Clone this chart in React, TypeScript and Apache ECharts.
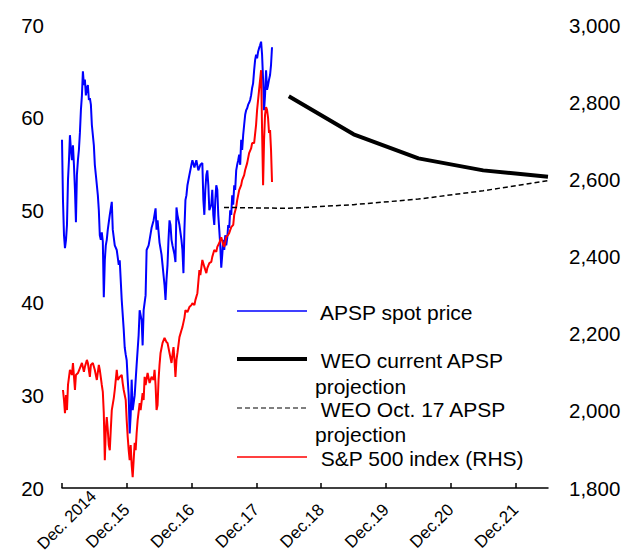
import React, { useEffect, useRef } from "react";
import * as echarts from "echarts";

// x values: months since Dec. 2014 (0 = Dec. 2014, 12 = Dec.15, ...)
const xTickMonths = [0, 12, 24, 36, 48, 60, 72, 84];
const xTickLabels = ["Dec. 2014", "Dec.15", "Dec.16", "Dec.17", "Dec.18", "Dec.19", "Dec.20", "Dec.21"];

const seriesNames = [
  "APSP spot price",
  "WEO current APSP projection",
  "WEO Oct. 17 APSP projection",
  "S&P 500 index (RHS)",
];

// APSP spot price, US$ per barrel (left axis)
const apspSpot: [number, number][] = [
  [0, 57.6], [0.18, 51.1], [0.37, 47.3], [0.55, 45.9], [0.74, 46.8], [0.92, 48.4], [1.11, 53.3], [1.29, 55.4],
  [1.47, 58.1], [1.66, 56.5], [1.84, 55.4], [2.03, 57.0], [2.21, 54.9], [2.4, 52.2], [2.58, 48.7], [2.76, 53.8],
  [2.95, 55.4], [3.13, 56.5], [3.32, 58.4], [3.5, 60.8], [3.69, 62.4], [3.87, 65.0], [4.06, 63.5], [4.24, 64.1],
  [4.42, 62.4], [4.61, 63.2], [4.79, 63.5], [4.98, 61.9], [5.16, 62.1], [5.35, 61.4], [5.53, 59.2], [5.9, 57.0],
  [6.08, 54.9], [6.27, 53.8], [6.64, 51.6], [6.82, 50.0], [7.0, 47.3], [7.19, 46.8], [7.37, 47.6], [7.56, 46.6],
  [7.74, 40.6], [7.93, 44.6], [8.11, 46.2], [8.29, 46.8], [8.48, 47.9], [8.85, 49.5], [9.22, 50.9], [9.4, 47.9],
  [9.77, 46.2], [10.14, 45.7], [10.51, 44.1], [10.69, 44.6], [11.06, 40.3], [11.43, 37.1], [11.61, 35.2],
  [11.8, 34.4], [11.98, 33.8], [12.17, 31.7], [12.35, 30.0], [12.53, 25.9], [12.72, 27.9], [12.9, 31.7],
  [13.09, 28.4], [13.46, 30.0], [13.82, 33.3], [14.19, 36.5], [14.38, 39.2], [14.75, 38.1], [14.93, 35.4],
  [15.12, 39.2], [15.48, 40.8], [15.67, 45.7], [16.04, 46.2], [16.22, 46.8], [16.59, 48.1], [16.96, 48.9],
  [17.33, 50.2], [17.51, 47.9], [17.7, 48.9], [18.06, 46.5], [18.43, 45.2], [18.62, 44.1], [18.8, 43.0],
  [18.99, 41.9], [19.17, 40.3], [19.35, 42.5], [19.54, 44.1], [19.72, 46.8], [19.91, 48.9], [20.09, 48.4],
  [20.28, 46.8], [20.46, 46.2], [20.83, 45.2], [21.01, 44.4], [21.2, 50.3], [21.38, 49.5], [21.75, 48.4],
  [22.12, 46.8], [22.3, 45.7], [22.49, 43.2], [22.67, 47.9], [22.86, 51.1], [23.04, 51.6], [23.23, 52.7],
  [23.59, 53.8], [23.96, 54.9], [24.15, 55.4], [24.52, 54.6], [24.88, 55.4], [25.25, 54.3], [25.62, 54.9],
  [25.99, 55.1], [26.18, 51.1], [26.36, 49.5], [26.54, 52.2], [26.73, 53.8], [26.91, 54.3], [27.1, 52.7],
  [27.28, 50.0], [27.65, 50.6], [27.83, 52.2], [28.02, 49.5], [28.2, 48.4], [28.39, 51.1], [28.57, 52.7],
  [28.76, 52.2], [28.94, 49.5], [29.12, 47.9], [29.31, 46.2], [29.49, 43.8], [29.68, 45.2], [29.86, 46.8],
  [30.05, 45.7], [30.23, 47.3], [30.41, 46.2], [30.6, 47.0], [30.78, 48.4], [30.97, 48.1], [31.15, 50.0],
  [31.34, 49.5], [31.52, 51.6], [31.71, 50.6], [31.89, 52.7], [32.07, 52.2], [32.26, 54.3], [32.44, 54.9],
  [32.63, 55.4], [32.81, 56.0], [33.0, 54.9], [33.18, 57.6], [33.36, 56.5], [33.55, 58.1], [33.73, 59.2],
  [33.92, 60.3], [34.1, 60.8], [34.29, 61.0], [34.47, 61.4], [34.65, 61.6], [34.84, 61.9], [35.02, 62.4],
  [35.21, 63.2], [35.39, 63.7], [35.58, 65.1], [35.76, 66.2], [35.94, 66.8], [36.13, 66.4], [36.31, 67.1],
  [36.5, 67.5], [36.68, 67.8], [36.87, 68.2], [37.05, 66.8], [37.24, 64.1], [37.42, 60.8], [37.6, 62.4],
  [37.79, 65.1], [37.97, 63.0], [38.16, 63.5], [38.34, 64.1], [38.53, 64.6], [38.71, 65.7], [38.89, 67.6],
];

// WEO projections, annual averages plotted at mid-year (left axis)
const weoCurrent: [number, number][] = [
  [42, 62.3], [54, 58.2], [66, 55.6], [78, 54.3], [90, 53.6],
];
const weoOct17: [number, number][] = [
  [30, 50.3], [42, 50.2], [54, 50.6], [66, 51.2], [78, 52.1], [90, 53.2],
];

// S&P 500 index (right axis)
const sp500: [number, number][] = [
  [0.18, 2054], [0.37, 2028], [0.55, 1994], [0.74, 2041], [0.92, 2002], [1.11, 2067], [1.47, 2106], [1.84, 2093],
  [2.03, 2124], [2.4, 2054], [2.58, 2093], [2.95, 2098], [3.32, 2111], [3.69, 2124], [4.06, 2101], [4.24, 2114],
  [4.61, 2132], [4.79, 2124], [5.16, 2088], [5.35, 2119], [5.71, 2124], [6.08, 2106], [6.45, 2080], [6.82, 2119],
  [7.0, 2106], [7.37, 2067], [7.56, 2049], [7.74, 1994], [7.93, 1872], [8.11, 1950], [8.29, 1984], [8.48, 1950],
  [8.66, 1911], [8.85, 1898], [9.03, 1950], [9.22, 2002], [9.59, 2033], [9.77, 2054], [10.14, 2106], [10.32, 2080],
  [10.69, 2088], [11.06, 2093], [11.24, 2072], [11.43, 2054], [11.8, 2028], [11.98, 1976], [12.17, 1932],
  [12.35, 1898], [12.53, 1872], [12.72, 1911], [12.9, 1860], [13.09, 1828], [13.27, 1872], [13.46, 1917],
  [13.64, 1898], [13.82, 1942], [14.01, 1976], [14.38, 2020], [14.56, 2002], [14.93, 2046], [15.12, 2028],
  [15.3, 2088], [15.48, 2067], [15.85, 2098], [16.22, 2072], [16.59, 2088], [16.96, 2080], [17.14, 2106],
  [17.33, 2067], [17.51, 2002], [17.7, 2015], [17.88, 2080], [18.06, 2119], [18.25, 2150], [18.62, 2176],
  [18.99, 2189], [19.35, 2178], [19.54, 2176], [19.91, 2150], [20.28, 2124], [20.46, 2145], [20.65, 2165],
  [20.83, 2132], [21.01, 2088], [21.2, 2132], [21.38, 2150], [21.75, 2191], [22.12, 2209], [22.3, 2217],
  [22.67, 2241], [22.86, 2261], [23.23, 2256], [23.59, 2269], [23.96, 2274], [24.15, 2279], [24.52, 2274],
  [24.7, 2287], [25.07, 2305], [25.44, 2365], [25.62, 2352], [25.99, 2391], [26.36, 2373], [26.73, 2357],
  [26.91, 2370], [27.28, 2383], [27.65, 2386], [27.83, 2399], [28.2, 2417], [28.57, 2412], [28.76, 2425],
  [29.12, 2435], [29.49, 2450], [29.86, 2430], [30.05, 2425], [30.41, 2450], [30.78, 2456], [30.97, 2461],
  [31.34, 2476], [31.71, 2482], [31.89, 2508], [32.26, 2528], [32.44, 2546], [32.81, 2572], [33.18, 2585],
  [33.36, 2598], [33.73, 2611], [33.92, 2624], [34.29, 2642], [34.65, 2668], [35.02, 2680], [35.21, 2694],
  [35.58, 2694], [35.94, 2741], [36.13, 2780], [36.5, 2832], [36.68, 2857], [36.87, 2883], [37.05, 2728],
  [37.24, 2585], [37.42, 2702], [37.6, 2767], [37.79, 2787], [37.97, 2780], [38.16, 2759], [38.34, 2720],
  [38.53, 2728], [38.71, 2676], [38.89, 2593],
];

const leftTicks = { min: 20, max: 70, interval: 10 };
const rightTicks = { min: 1800, max: 3000, interval: 200 };

const FONT = "Liberation Sans, Arial, sans-serif";

export default function App() {
  const ref = useRef<HTMLDivElement>(null);

  useEffect(() => {
    if (!ref.current) return;
    const chart = echarts.init(ref.current, undefined, { renderer: "svg" });

    const legendText = (text: string, x: number, y: number) => ({
      type: "text",
      x,
      y,
      silent: true,
      style: { text, fontSize: 21, fontFamily: FONT, fill: "#000", align: "left", verticalAlign: "middle" },
    });
    const legendLine = (y: number, stroke: string, lineWidth: number, lineDash?: number[]) => ({
      type: "line",
      silent: true,
      shape: { x1: 237, y1: y, x2: 307, y2: y },
      style: { stroke, lineWidth, lineDash },
    });

    chart.setOption({
      animation: false,
      backgroundColor: "#fff",
      grid: { left: 62, right: 77, top: 25, bottom: 68, containLabel: false },
      xAxis: {
        type: "value",
        min: 0,
        max: 90,
        interval: 12,
        axisLine: { show: true, onZero: false, lineStyle: { color: "#000", width: 1.5 } },
        axisTick: { show: true, inside: true, length: 5, customValues: xTickMonths, lineStyle: { color: "#000", width: 1.5 } },
        axisLabel: {
          customValues: xTickMonths.slice(1),
          rotate: 45,
          margin: 19,
          fontSize: 17,
          fontFamily: FONT,
          color: "#000",
          formatter: (v: number) => {
            const i = xTickMonths.indexOf(Math.round(v));
            return i > 0 ? xTickLabels[i] : "";
          },
        },
        splitLine: { show: false },
      },
      yAxis: [
        {
          type: "value",
          ...leftTicks,
          position: "left",
          axisLine: { show: false },
          axisTick: { show: false },
          splitLine: { show: false },
          axisLabel: { margin: 18, fontSize: 20.5, fontFamily: FONT, color: "#000" },
        },
        {
          type: "value",
          ...rightTicks,
          position: "right",
          axisLine: { show: false },
          axisTick: { show: false },
          splitLine: { show: false },
          axisLabel: {
            margin: 21,
            fontSize: 20.5,
            fontFamily: FONT,
            color: "#000",
            formatter: (v: number) => v.toLocaleString("en-US"),
          },
        },
      ],
      series: [
        {
          name: seriesNames[0],
          type: "line",
          yAxisIndex: 0,
          data: apspSpot,
          showSymbol: false,
          symbol: "none",
          lineStyle: { color: "#0000ff", width: 2 },
        },
        {
          name: seriesNames[3],
          type: "line",
          yAxisIndex: 1,
          data: sp500,
          showSymbol: false,
          symbol: "none",
          lineStyle: { color: "#ff0000", width: 2 },
        },
        {
          name: seriesNames[1],
          type: "line",
          yAxisIndex: 0,
          data: weoCurrent,
          showSymbol: false,
          symbol: "none",
          lineStyle: { color: "#000", width: 4 },
        },
        {
          name: seriesNames[2],
          type: "line",
          yAxisIndex: 0,
          data: weoOct17,
          showSymbol: false,
          symbol: "none",
          lineStyle: { color: "#000", width: 1.5, type: [5, 3] },
        },
      ],
      graphic: [
        {
          type: "text",
          x: 93,
          y: 493,
          rotation: Math.PI / 4,
          silent: true,
          style: {
            text: xTickLabels[0],
            fontSize: 16.5,
            fontFamily: FONT,
            fill: "#000",
            align: "right",
            verticalAlign: "middle",
          },
        },
        legendLine(311, "#0000ff", 1.5),
        legendText("APSP spot price", 320, 312),
        legendLine(359, "#000", 4),
        legendText(" WEO current APSP", 315, 360),
        legendText("projection", 315, 386),
        legendLine(408, "#000", 1.2, [5, 3]),
        legendText(" WEO Oct. 17 APSP", 315, 409),
        legendText("projection", 315, 434),
        legendLine(457, "#ff0000", 1.5),
        legendText(" S&P 500 index (RHS)", 315, 458),
      ],
    });

    return () => chart.dispose();
  }, []);

  return (
    <div
      ref={ref}
      style={{ position: "absolute", left: 0, top: 0, width: 625, height: 556, background: "#fff" }}
    />
  );
}
